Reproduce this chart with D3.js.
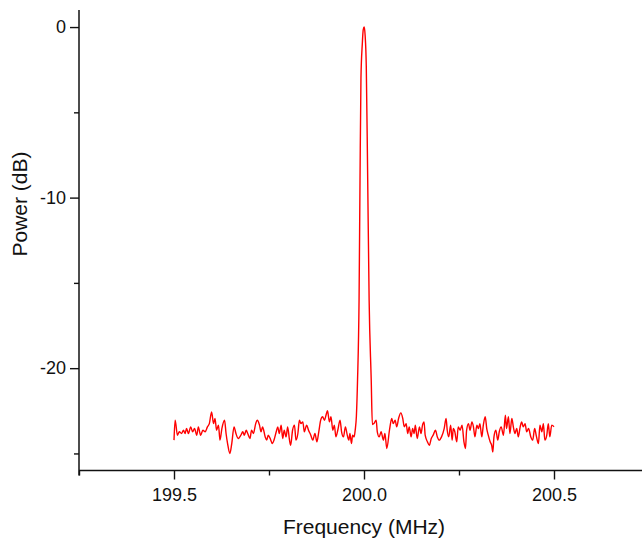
<!DOCTYPE html>
<html>
<head>
<meta charset="utf-8">
<script src="https://cdn.jsdelivr.net/npm/d3@7"></script>
<style>
  html, body { margin: 0; padding: 0; background: #fff; }
  svg { display: block; font-family: "Liberation Sans", Arial, sans-serif; }
</style>
</head>
<body>
<div id="chart"></div>
<script>
// noise floor left of the carrier (MHz, dB)
const freqLeft = [199.500, 199.503, 199.509, 199.514, 199.520, 199.525, 199.529, 199.533, 199.538, 199.544,
  199.549, 199.554, 199.560, 199.564, 199.570, 199.576, 199.582, 199.588, 199.593, 199.599,
  199.604, 199.608, 199.612, 199.617, 199.621, 199.626, 199.633, 199.637, 199.641, 199.647,
  199.652, 199.658, 199.663, 199.669, 199.676, 199.681, 199.685, 199.690, 199.694, 199.700,
  199.704, 199.709, 199.715, 199.719, 199.725, 199.729, 199.733, 199.740, 199.744, 199.748,
  199.753, 199.759, 199.763, 199.769, 199.773, 199.777, 199.782, 199.786, 199.790, 199.795,
  199.799, 199.804, 199.807, 199.812, 199.817, 199.821, 199.826, 199.830, 199.834, 199.839,
  199.843, 199.849, 199.854, 199.860, 199.865, 199.871, 199.876, 199.881, 199.886, 199.891,
  199.896, 199.900, 199.904, 199.909, 199.913, 199.918, 199.922, 199.926, 199.931, 199.937,
  199.941, 199.946, 199.951, 199.956, 199.960, 199.963, 199.967, 199.970, 199.974];
const powerLeft = [-24.22, -23.05, -23.93, -23.73, -23.83, -23.64, -23.83, -23.54, -23.83, -23.44,
  -23.73, -23.54, -23.93, -23.44, -23.93, -23.64, -23.73, -23.44, -23.25, -22.56,
  -23.25, -22.95, -23.64, -23.34, -24.22, -23.54, -23.05, -23.83, -24.42, -25.00,
  -24.42, -23.44, -23.83, -24.12, -23.93, -23.73, -23.93, -23.64, -23.83, -24.12,
  -23.64, -23.83, -23.25, -23.05, -23.34, -23.73, -23.44, -24.03, -24.22, -23.93,
  -24.12, -24.42, -24.22, -23.73, -23.44, -23.83, -23.34, -24.12, -23.64, -24.03,
  -23.44, -24.22, -24.52, -23.64, -23.34, -24.22, -23.83, -23.05, -23.25, -23.15,
  -23.73, -23.34, -23.64, -23.93, -24.22, -23.83, -24.32, -23.73, -23.05, -22.85,
  -23.05, -22.76, -22.50, -23.15, -22.85, -23.64, -23.34, -24.03, -23.64, -23.05,
  -23.73, -24.03, -23.44, -23.93, -24.22, -23.83, -24.42, -23.93, -24.03];

// carrier peak
const freqPeak = [199.977, 199.980, 199.983, 199.987, 199.9895, 199.992, 199.9955, 199.998,
  200.0005, 200.003, 200.006, 200.0095, 200.0135, 200.019, 200.022];
const powerPeak = [-23.6, -22.8, -20.7, -16.0, -9.0, -3.0, -1.0, -0.15,
  0, -0.5, -2.3, -8.5, -16.0, -20.7, -23.3];

// noise floor right of the carrier
const freqRight = [200.026, 200.032, 200.035, 200.040, 200.045, 200.051, 200.055, 200.060, 200.067, 200.073,
  200.077, 200.082, 200.086, 200.091, 200.097, 200.102, 200.106, 200.111, 200.115, 200.119,
  200.124, 200.128, 200.132, 200.135, 200.140, 200.146, 200.150, 200.154, 200.158, 200.161,
  200.167, 200.172, 200.177, 200.182, 200.188, 200.193, 200.198, 200.204, 200.211, 200.216,
  200.219, 200.223, 200.228, 200.232, 200.235, 200.239, 200.244, 200.248, 200.253, 200.258,
  200.263, 200.267, 200.270, 200.275, 200.279, 200.284, 200.288, 200.292, 200.297, 200.301,
  200.305, 200.310, 200.314, 200.319, 200.323, 200.327, 200.332, 200.336, 200.339, 200.342,
  200.347, 200.352, 200.356, 200.361, 200.367, 200.372, 200.375, 200.380, 200.384, 200.389,
  200.393, 200.397, 200.402, 200.406, 200.411, 200.415, 200.419, 200.424, 200.428, 200.433,
  200.439, 200.444, 200.449, 200.454, 200.459, 200.463, 200.468, 200.472, 200.476, 200.481,
  200.485, 200.489, 200.494, 200.500];
const powerRight = [-23.25, -23.05, -23.73, -24.03, -23.73, -24.22, -23.83, -24.71, -23.64, -22.95,
  -23.25, -23.05, -23.44, -22.95, -22.62, -22.95, -23.44, -23.25, -23.83, -23.44,
  -24.03, -23.54, -23.83, -23.34, -24.12, -23.44, -23.83, -23.34, -23.15, -23.93,
  -24.32, -24.52, -24.12, -23.93, -23.64, -24.03, -24.22, -24.03, -23.54, -22.95,
  -23.64, -24.03, -23.34, -24.22, -23.54, -23.73, -24.32, -23.44, -23.64, -23.34,
  -24.32, -24.71, -23.64, -23.25, -23.64, -23.15, -23.44, -24.03, -23.34, -23.54,
  -23.25, -24.03, -23.34, -22.85, -23.54, -23.93, -24.32, -24.52, -24.91, -24.03,
  -23.64, -24.22, -23.73, -23.44, -23.93, -22.76, -23.54, -22.85, -23.83, -22.95,
  -23.44, -23.83, -23.54, -24.03, -23.44, -23.15, -23.44, -23.25, -23.73, -23.54,
  -24.03, -24.22, -23.54, -24.03, -24.42, -23.34, -23.73, -23.25, -24.22, -23.93,
  -23.25, -24.03, -23.34, -23.44];

const xMajorTicks = [199.5, 200.0, 200.5];
const xMinorTicks = [199.25, 199.75, 200.25, 200.75];
const yMajorTicks = [0, -10, -20];
const yMinorTicks = [-5, -15, -25];

const width = 642;
const height = 544;
const marginLeft = 79;
const plotTop = 10;
const plotBottom = 470.5;

const freq = freqLeft.concat(freqPeak, freqRight);
const power = powerLeft.concat(powerPeak, powerRight);
const data = freq.map((f, i) => [f, power[i]]);

const x = d3.scaleLinear().domain([199.25, 200.75]).range([marginLeft, marginLeft + 570]);
const y = d3.scaleLinear().domain([-26, 1]).range([plotBottom, plotTop]);

const svg = d3.select("#chart").append("svg")
  .attr("width", width)
  .attr("height", height);

// spectrum trace
svg.append("path")
  .datum(data)
  .attr("fill", "none")
  .attr("stroke", "#ff0000")
  .attr("stroke-width", 1.4)
  .attr("stroke-linejoin", "round")
  .attr("d", d3.line()
    .curve(d3.curveMonotoneX)
    .x(d => x(d[0]))
    .y(d => y(d[1])));

// axes
const fmtY = d => d < 0 ? "-" + Math.abs(d) : String(d);

const gx = svg.append("g").attr("transform", `translate(0,${plotBottom})`);
gx.call(d3.axisBottom(x).tickValues(xMajorTicks).tickSize(9).tickPadding(9)
  .tickFormat(d3.format(".1f")));
gx.append("g").call(d3.axisBottom(x).tickValues(xMinorTicks).tickSize(5).tickFormat(""));

const gy = svg.append("g").attr("transform", `translate(${marginLeft},0)`);
gy.call(d3.axisLeft(y).tickValues(yMajorTicks).tickSize(9).tickPadding(4).tickFormat(fmtY));
gy.append("g").call(d3.axisLeft(y).tickValues(yMinorTicks).tickSize(5).tickFormat(""));

svg.selectAll(".domain").remove();
svg.selectAll(".tick line").attr("stroke", "#111").attr("stroke-width", 1.4);
svg.selectAll(".tick text").attr("fill", "#111").style("font-size", "18px")
  .style("font-family", "'Liberation Sans', Arial, sans-serif");

// axis lines
svg.append("line")
  .attr("x1", marginLeft).attr("x2", width)
  .attr("y1", plotBottom).attr("y2", plotBottom)
  .attr("stroke", "#111").attr("stroke-width", 1.5);
svg.append("line")
  .attr("x1", marginLeft).attr("x2", marginLeft)
  .attr("y1", plotTop).attr("y2", plotBottom + 5)
  .attr("stroke", "#111").attr("stroke-width", 1.5);

// titles
svg.append("text")
  .attr("x", x(200.0))
  .attr("y", 534)
  .attr("text-anchor", "middle")
  .style("font-size", "21px")
  .attr("fill", "#111")
  .text("Frequency (MHz)");

svg.append("text")
  .attr("transform", "translate(27,204) rotate(-90)")
  .attr("text-anchor", "middle")
  .style("font-size", "21px")
  .attr("fill", "#111")
  .text("Power (dB)");
</script>
</body>
</html>
